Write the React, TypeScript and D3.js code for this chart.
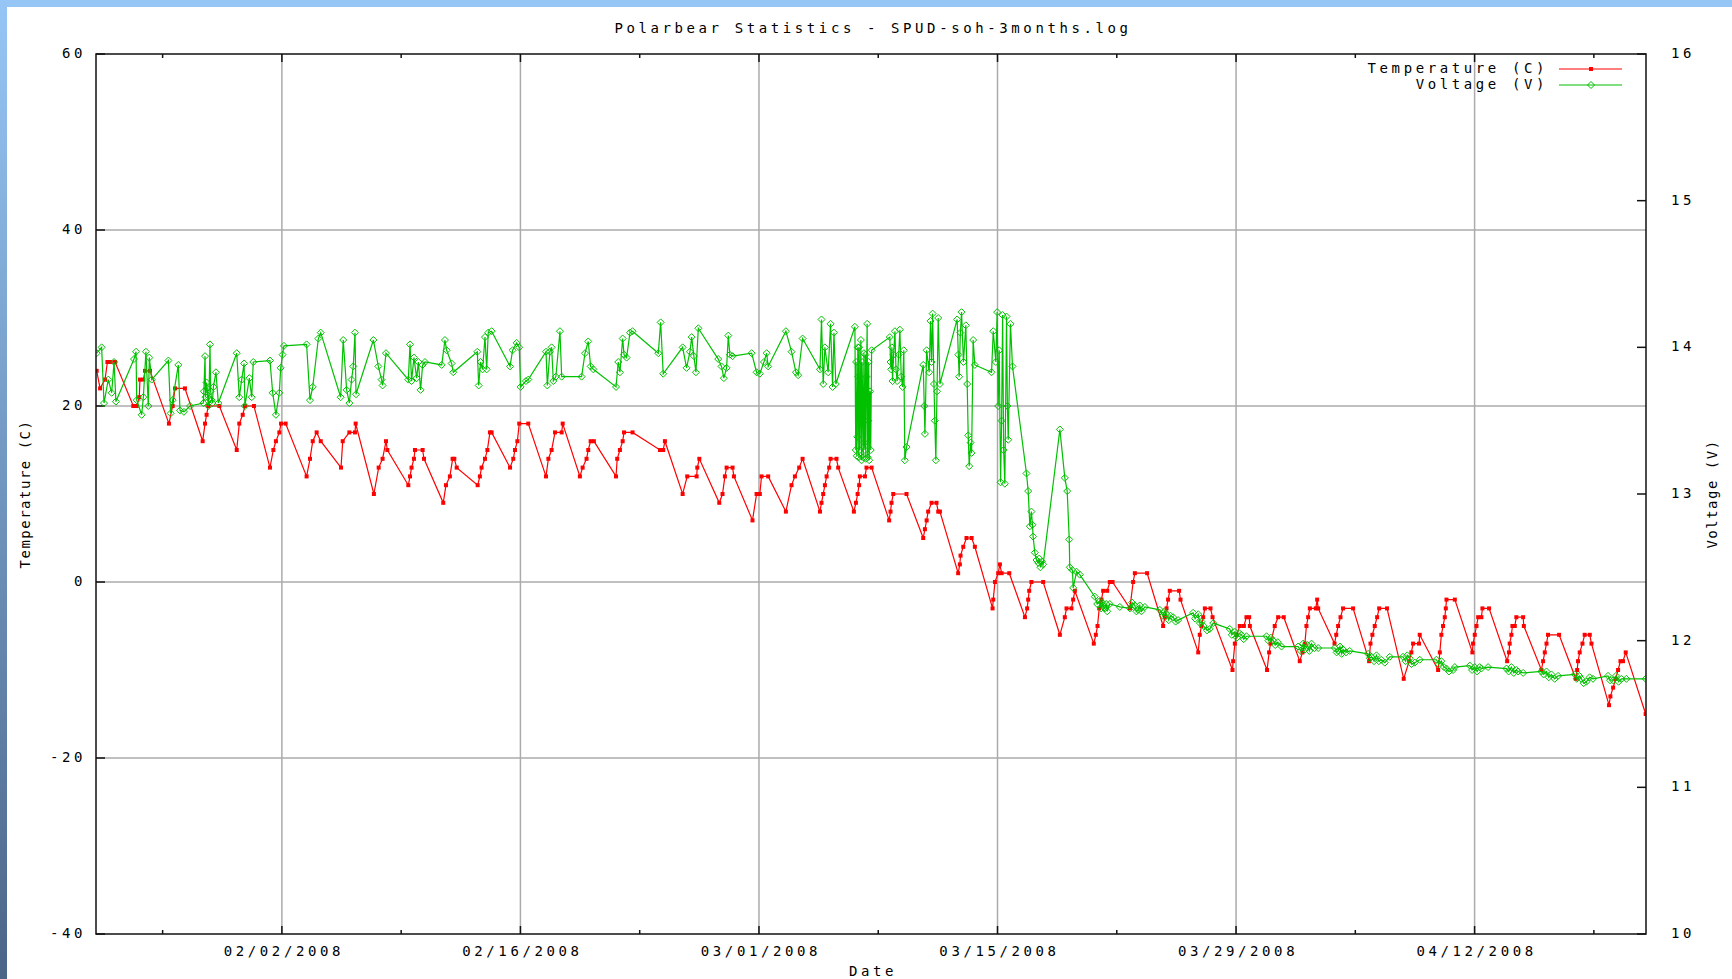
import React from "react";
import * as d3 from "d3";

const WIDTH = 1732;
const HEIGHT = 979;
const plot = { left: 96, right: 1646, top: 54, bottom: 934 };

const title = "Polarbear Statistics - SPUD-soh-3months.log";
// days are counted from 2008-01-22 00:00 UTC
const startMs = Date.UTC(2008, 0, 22);
const xDomainDays = [0.09, 91.06];
const majorTickDates = ["2008-02-02", "2008-02-16", "2008-03-01", "2008-03-15", "2008-03-29", "2008-04-12"];
const tempTicks = [-40, -20, 0, 20, 40, 60];
const voltTicks = [10, 11, 12, 13, 14, 15, 16];

// [day, degrees C]
const temperature: [number, number][] = [
  [0.13, 24], [0.33, 22], [0.62, 23], [0.76, 25], [0.95, 25], [1.21, 25], [2.28, 20], [2.48, 20], [2.63, 21], [2.67, 23],
  [2.87, 23], [2.97, 24], [3.26, 24], [4.37, 18], [4.59, 20], [4.73, 22], [5.31, 22], [6.35, 16], [6.49, 18], [6.58, 19],
  [6.68, 20], [7.33, 20], [8.35, 15], [8.5, 18], [8.7, 19], [8.83, 20], [9.36, 20], [10.3, 13], [10.5, 15], [10.65, 16],
  [10.85, 17], [10.95, 18], [11.22, 18], [12.45, 12], [12.65, 14], [12.81, 16], [13.04, 17], [13.28, 16], [14.47, 13], [14.57, 16],
  [14.96, 17], [15.29, 17], [15.33, 18], [16.4, 10], [16.68, 13], [16.91, 14], [17.11, 16], [17.19, 15], [18.42, 11],
  [18.52, 12], [18.61, 13], [18.75, 14], [18.81, 15], [19.26, 15], [19.34, 14], [20.47, 9], [20.63, 11], [20.86, 12], [21.02, 14],
  [21.12, 14], [21.26, 13], [22.49, 11], [22.62, 12], [22.72, 13], [22.92, 14], [23.06, 15], [23.21, 17], [23.31, 17], [24.39, 13],
  [24.58, 14], [24.68, 15], [24.82, 16], [24.93, 18], [25.46, 18], [26.5, 12], [26.64, 14], [26.83, 15], [27.03, 17], [27.42, 17],
  [27.48, 18], [28.49, 12], [28.65, 13], [28.88, 14], [28.98, 15], [29.12, 16], [29.31, 16], [30.61, 12], [30.68, 14], [30.84, 15],
  [31.0, 16], [31.08, 17], [31.58, 17], [33.19, 15], [33.38, 15], [33.48, 16], [34.52, 10], [34.79, 12], [35.34, 12], [35.38, 13],
  [35.5, 14], [36.67, 9],
  [36.86, 10], [37.0, 12], [37.1, 13], [37.45, 13], [37.53, 12], [38.62, 7], [38.86, 10], [39.05, 10], [39.15, 12], [39.54, 12],
  [40.58, 8], [40.91, 11], [41.11, 12], [41.36, 13], [41.56, 14], [42.58, 8], [42.67, 9], [42.77, 10], [42.87, 11], [42.97, 12],
  [43.12, 13], [43.2, 14], [43.55, 14], [43.65, 13], [44.57, 8], [44.69, 9], [44.79, 10], [44.88, 11], [44.92, 12], [45.22, 12],
  [45.31, 13], [45.61, 13], [46.64, 7], [46.72, 8], [46.78, 9], [46.88, 10], [47.66, 10], [48.64, 5], [48.74, 6], [48.84, 7],
  [48.93, 8], [49.13, 9], [49.42, 9], [49.52, 8], [49.62, 8], [50.69, 1], [50.79, 2], [50.83, 3], [50.99, 4], [51.18, 5],
  [51.48, 5], [51.67, 4], [52.71, -3], [52.75, -2], [52.85, 0], [53.04, 1], [53.14, 2], [53.24, 1], [53.69, 1], [54.61, -4],
  [54.74, -3], [54.8, -2], [54.86, -1], [54.99, 0], [55.68, 0], [56.66, -6], [56.95, -4], [57.05, -3], [57.34, -3], [57.44, -2],
  [57.54, -1], [58.65, -7], [58.77, -6], [58.87, -5], [58.97, -3], [59.1, -2], [59.2, -1], [59.44, -1], [59.59, 0], [59.75, 0],
  [60.77, -3], [60.96, 0], [61.06, 1], [61.78, 1], [62.72, -5], [62.82, -4], [62.92, -3], [63.01, -2], [63.11, -1], [63.66, -1],
  [63.74, -2], [64.78, -8], [64.87, -6], [64.97, -5], [65.07, -4], [65.17, -3], [65.5, -3], [65.62, -4], [66.79, -10], [66.83, -9],
  [66.93, -7], [67.03, -6], [67.22, -5], [67.46, -5], [67.61, -4], [67.77, -4], [67.81, -5], [68.82, -10], [68.94, -8], [69.02, -7],
  [69.27, -5], [69.47, -4], [69.8, -4], [70.74, -9], [70.9, -8], [71.04, -7], [71.13, -5], [71.23, -4], [71.33, -3], [71.68, -3],
  [71.76, -2], [71.82, -3], [72.78, -7],
  [72.88, -6], [72.99, -5], [73.13, -4], [73.28, -3], [73.87, -3], [74.81, -9], [74.89, -7], [75.0, -6], [75.14, -5], [75.28, -4],
  [75.4, -3], [75.86, -3], [76.84, -11], [77.16, -9], [77.29, -8], [77.39, -7], [77.74, -7], [77.78, -6], [78.86, -10], [78.96, -8],
  [79.05, -6], [79.15, -5], [79.25, -4], [79.31, -3], [79.35, -2], [79.84, -2], [80.87, -8], [80.91, -7], [81.01, -6], [81.11, -5],
  [81.21, -4], [81.4, -4], [81.46, -3], [81.85, -3], [82.91, -9], [83.02, -8], [83.06, -7], [83.16, -6], [83.22, -5], [83.36, -5],
  [83.45, -4], [83.85, -4], [83.89, -5], [84.92, -10], [85.02, -9], [85.12, -8], [85.22, -7], [85.31, -6], [85.96, -6], [86.94, -11],
  [87.02, -10], [87.07, -9], [87.17, -8], [87.33, -7], [87.46, -6], [87.76, -6], [87.86, -7], [88.89, -14], [88.97, -13], [89.13, -12],
  [89.28, -11], [89.42, -10], [89.56, -9], [89.71, -9], [89.87, -8], [91.04, -15],
];

// [day, volts]
const voltage: [number, number][] = [
  [0.13, 13.96], [0.42, 14.0], [0.56, 13.62], [0.81, 13.78], [1.01, 13.69], [1.15, 13.9], [1.26, 13.63], [2.32, 13.92], [2.44, 13.97], [2.48, 13.64],
  [2.77, 13.54], [2.87, 13.66], [3.02, 13.97], [3.16, 13.6], [3.22, 13.93], [3.36, 13.78], [4.34, 13.91], [4.47, 13.55], [4.59, 13.64], [4.92, 13.88],
  [5.02, 13.57], [5.25, 13.56], [5.61, 13.6], [6.39, 13.62], [6.42, 13.7], [6.49, 13.94], [6.52, 13.66], [6.58, 13.76], [6.62, 13.72], [6.68, 13.6],
  [6.72, 13.65], [6.78, 14.02], [6.82, 13.7], [6.88, 13.64], [6.92, 13.62], [6.98, 13.73], [7.13, 13.83], [7.27, 13.62], [8.35, 13.96], [8.5, 13.66],
  [8.64, 13.78], [8.78, 13.89], [8.83, 13.6], [9.09, 13.79], [9.23, 13.66], [9.32, 13.9], [10.3, 13.91], [10.46, 13.69], [10.65, 13.54], [10.85, 13.69],
  [10.93, 13.86], [11.04, 13.95], [11.12, 14.01], [12.45, 14.02], [12.65, 13.64], [12.81, 13.73], [13.14, 14.06], [13.28, 14.1], [14.45, 13.66], [14.6, 14.05],
  [14.8, 13.71], [14.96, 13.62], [15.09, 13.78], [15.19, 13.87], [15.29, 14.1], [15.35, 13.68], [16.37, 14.05], [16.66, 13.87], [16.85, 13.78], [16.91, 13.74],
  [17.11, 13.96], [18.42, 13.78],
  [18.52, 14.02], [18.61, 13.77], [18.75, 13.93], [18.91, 13.79], [19.01, 13.9], [19.14, 13.71], [19.26, 13.88], [19.4, 13.9], [20.38, 13.88], [20.57, 14.05],
  [20.67, 13.98], [20.96, 13.89], [21.06, 13.83], [22.47, 13.97], [22.55, 13.74], [22.66, 13.9], [22.78, 13.85], [22.92, 14.07], [23.02, 13.85], [23.11, 14.1],
  [23.31, 14.11], [24.39, 13.87], [24.54, 13.98], [24.78, 14.03], [24.93, 14.0], [25.01, 13.73], [25.32, 13.77], [25.46, 13.78], [26.5, 13.97], [26.58, 13.74],
  [26.73, 13.97], [26.83, 14.0], [26.93, 13.77], [27.08, 13.8], [27.32, 14.11], [27.42, 13.8], [28.59, 13.8], [28.79, 13.96], [28.98, 14.04], [29.12, 13.87],
  [29.28, 13.85], [30.61, 13.73], [30.74, 13.9], [30.84, 13.83], [31.0, 14.06], [31.08, 13.95], [31.23, 13.93], [31.43, 14.1], [31.58, 14.11], [33.09, 13.96],
  [33.23, 14.17], [33.38, 13.82], [34.52, 14.0], [34.75, 13.86], [34.95, 13.97], [35.05, 14.07], [35.18, 13.94], [35.3, 13.83], [35.44, 14.13], [36.61, 13.92],
  [36.8, 13.87], [36.94, 13.79], [37.1, 13.86], [37.2, 14.08], [37.29, 13.95], [37.45, 13.94], [38.57, 13.96], [38.86, 13.83], [39.05, 13.82], [39.29, 13.9],
  [39.45, 13.96], [39.54, 13.87], [40.58, 14.11], [40.91, 13.97], [41.17, 13.83], [41.3, 13.81], [41.56, 14.06], [42.58, 13.85], [42.67, 14.19], [42.77, 13.75],
  [42.87, 14.0], [43.06, 13.83], [43.2, 14.16], [43.32, 13.73], [43.4, 14.1], [43.51, 13.75], [44.63, 14.14], [44.68, 13.3], [44.7, 13.9], [44.74, 13.26],
  [44.77, 13.39], [44.8, 14.0], [44.83, 13.8], [44.86, 13.25], [44.88, 14.0], [44.92, 13.3], [44.95, 13.6], [44.98, 14.05], [45.02, 13.23], [45.05, 13.9],
  [45.08, 13.7], [45.12, 13.25], [45.16, 13.96], [45.19, 13.35], [45.22, 13.3], [45.25, 13.95], [45.27, 13.24], [45.31, 13.8], [45.35, 14.16], [45.38, 13.25],
  [45.41, 13.5], [45.44, 13.9], [45.47, 13.23], [45.52, 13.7], [45.56, 13.3], [45.61, 13.98],
  [46.68, 14.07], [46.72, 13.9], [46.76, 13.85], [46.8, 14.0], [46.84, 13.77], [46.9, 13.95], [46.98, 14.11], [47.04, 13.85], [47.11, 13.77], [47.2, 13.95],
  [47.27, 14.12], [47.35, 13.8], [47.43, 13.73], [47.5, 13.98], [47.56, 13.23], [47.66, 13.32], [48.64, 13.88], [48.7, 13.6], [48.74, 13.41], [48.84, 13.98],
  [48.99, 13.83], [49.07, 14.18], [49.13, 13.9], [49.19, 14.23], [49.27, 13.75], [49.32, 13.5], [49.38, 13.23], [49.45, 13.7], [49.52, 14.2], [49.62, 13.75],
  [50.63, 14.19], [50.7, 13.95], [50.75, 13.8], [50.82, 14.1], [50.89, 14.24], [51.0, 13.9], [51.14, 14.15], [51.22, 13.75], [51.28, 13.4], [51.34, 13.19],
  [51.42, 13.35], [51.48, 13.28], [51.57, 14.05], [51.67, 13.88], [52.65, 13.83], [52.75, 14.11], [52.9, 13.9], [52.98, 14.24], [53.04, 13.6], [53.1, 13.98],
  [53.18, 13.08], [53.24, 13.5], [53.3, 14.22], [53.36, 13.3], [53.43, 13.07], [53.53, 14.21], [53.58, 13.6], [53.63, 13.37], [53.76, 14.16], [53.88, 13.87],
  [54.7, 13.14], [54.8, 13.02], [54.9, 12.78], [54.99, 12.88], [55.05, 12.79], [55.09, 12.71], [55.19, 12.6], [55.29, 12.55], [55.39, 12.53], [55.45, 12.56],
  [55.52, 12.5], [55.6, 12.54], [55.68, 12.52], [56.66, 13.44], [56.95, 13.11], [57.09, 13.02], [57.21, 12.69], [57.24, 12.5], [57.4, 12.48], [57.44, 12.36],
  [57.64, 12.47], [57.83, 12.45], [58.71, 12.3], [58.85, 12.25], [59.0, 12.27], [59.08, 12.22], [59.15, 12.26], [59.2, 12.24], [59.3, 12.22], [59.38, 12.25],
  [59.44, 12.2], [59.59, 12.25], [60.18, 12.23], [60.77, 12.22], [60.9, 12.26], [61.06, 12.24], [61.15, 12.2], [61.25, 12.21], [61.35, 12.24], [61.45, 12.2],
  [61.65, 12.23], [62.53, 12.21], [62.7, 12.17], [62.8, 12.2], [62.92, 12.18], [63.05, 12.14], [63.15, 12.17], [63.31, 12.16], [63.45, 12.13], [63.6, 12.14],
  [64.48, 12.19], [64.6, 12.15], [64.78, 12.18], [64.88, 12.12], [64.97, 12.13], [65.1, 12.1], [65.3, 12.07], [65.46, 12.08], [65.66, 12.12], [66.63, 12.08],
  [66.75, 12.04], [66.93, 12.06], [67.05, 12.02], [67.2, 12.05], [67.32, 12.04], [67.45, 12.01], [67.61, 12.03], [68.79, 12.03], [68.9, 12.0], [69.05, 12.02],
  [69.18, 12.0], [69.3, 11.97], [69.45, 11.99], [69.67, 11.96], [70.64, 11.96], [70.8, 11.93], [70.94, 11.98], [71.05, 11.94], [71.2, 11.97], [71.3, 11.93],
  [71.43, 11.98], [71.6, 11.95], [71.82, 11.95], [72.8, 11.95], [72.9, 11.92], [72.99, 11.93], [73.1, 11.96], [73.2, 11.91], [73.28, 11.94], [73.45, 11.92],
  [73.67, 11.93], [74.75, 11.91], [74.85, 11.88], [74.95, 11.89], [75.1, 11.86], [75.24, 11.9], [75.38, 11.86], [75.53, 11.87], [75.73, 11.85], [76.02, 11.89],
  [76.8, 11.89], [76.95, 11.86], [77.05, 11.9], [77.19, 11.88], [77.3, 11.84], [77.49, 11.85], [77.78, 11.87], [78.76, 11.87], [78.9, 11.84], [79.05, 11.86],
  [79.2, 11.82], [79.35, 11.81], [79.5, 11.79], [79.74, 11.8], [79.84, 11.82], [80.72, 11.83], [80.85, 11.8], [81.01, 11.82], [81.15, 11.79], [81.3, 11.82],
  [81.4, 11.81], [81.79, 11.82], [82.87, 11.81], [83.0, 11.79], [83.16, 11.82], [83.3, 11.78], [83.45, 11.8], [83.55, 11.79], [83.85, 11.78], [84.92, 11.79],
  [85.05, 11.77], [85.22, 11.79], [85.35, 11.75], [85.51, 11.77], [85.7, 11.74], [85.9, 11.76], [86.88, 11.77], [87.0, 11.74], [87.15, 11.76], [87.27, 11.74],
  [87.4, 11.71], [87.56, 11.72], [87.75, 11.75], [87.95, 11.74], [88.83, 11.76], [88.95, 11.73], [89.13, 11.73], [89.3, 11.76], [89.45, 11.72], [89.62, 11.74],
  [89.91, 11.74], [91.04, 11.74],
];

const font = "'DejaVu Sans Mono', 'Liberation Mono', monospace";
const dayToDate = (d: number) => new Date(startMs + d * 864e5);

const App = () => {
  const x = d3.scaleUtc().domain(xDomainDays.map(dayToDate)).range([plot.left, plot.right]);
  const yT = d3.scaleLinear().domain([-40, 60]).range([plot.bottom, plot.top]);
  const yV = d3.scaleLinear().domain([10, 16]).range([plot.bottom, plot.top]);

  const majors = majorTickDates.map(s => new Date(s + "T00:00:00Z"));
  const minors = [...majors.map(d => d3.utcDay.offset(d, -7)), d3.utcDay.offset(majors[majors.length - 1], 7)];
  const fmt = d3.utcFormat("%m/%d/%Y");

  const tempLine = d3.line<[number, number]>().x(d => x(dayToDate(d[0]))).y(d => yT(d[1]));
  const voltLine = d3.line<[number, number]>().x(d => x(dayToDate(d[0]))).y(d => yV(d[1]));

  const diamond = (cx: number, cy: number, r = 3.5) =>
    `M${cx},${cy - r}L${cx + r},${cy}L${cx},${cy + r}L${cx - r},${cy}Z`;

  const textStyle = { fontFamily: font, fontSize: 14, letterSpacing: 3.6, fill: "#000" };
  const rotStyle = { fontFamily: font, fontSize: 14, letterSpacing: 1.5, fill: "#000" };

  return (
    <svg width={WIDTH} height={HEIGHT} style={{ position: "absolute", left: 0, top: 0, background: "#fff" }}>
      <defs>
        <linearGradient id="sideBar" x1="0" y1="0" x2="0" y2="1">
          <stop offset="0%" stopColor="#96c6f6" />
          <stop offset="100%" stopColor="#4b6587" />
        </linearGradient>
        <clipPath id="plotClip">
          <rect x={plot.left} y={plot.top} width={plot.right - plot.left} height={plot.bottom - plot.top} />
        </clipPath>
      </defs>
      <rect x={0} y={0} width={WIDTH} height={HEIGHT} fill="#fff" />
      <rect x={0} y={0} width={WIDTH} height={7} fill="#96c6f6" />
      <rect x={0} y={0} width={7} height={HEIGHT} fill="url(#sideBar)" />

      <text x={871 + 2} y={29} textAnchor="middle" dominantBaseline="middle" style={textStyle}>{title}</text>

      {/* grid */}
      <g stroke="#ababab" strokeWidth={1.5}>
        {tempTicks.filter(t => t > -40 && t < 60).map(t => (
          <line key={"h" + t} x1={plot.left} x2={plot.right} y1={yT(t)} y2={yT(t)} />
        ))}
        {majors.map((d, i) => (
          <line key={"v" + i} x1={x(d)} x2={x(d)} y1={plot.top} y2={plot.bottom} />
        ))}
      </g>

      {/* ticks */}
      <g stroke="#111" strokeWidth={1.5}>
        {tempTicks.map(t => (
          <line key={"lt" + t} x1={plot.left} x2={plot.left + 9} y1={yT(t)} y2={yT(t)} />
        ))}
        {voltTicks.map(v => (
          <line key={"rt" + v} x1={plot.right - 9} x2={plot.right} y1={yV(v)} y2={yV(v)} />
        ))}
        {majors.map((d, i) => (
          <g key={"mt" + i}>
            <line x1={x(d)} x2={x(d)} y1={plot.bottom} y2={plot.bottom - 8} />
            <line x1={x(d)} x2={x(d)} y1={plot.top} y2={plot.top + 8} />
          </g>
        ))}
        {minors.map((d, i) => (
          <g key={"mn" + i}>
            <line x1={x(d)} x2={x(d)} y1={plot.bottom} y2={plot.bottom - 4} />
            <line x1={x(d)} x2={x(d)} y1={plot.top} y2={plot.top + 4} />
          </g>
        ))}
      </g>

      {/* tick labels */}
      {tempTicks.map(t => (
        <text key={"tl" + t} x={86} y={yT(t)} textAnchor="end" dominantBaseline="middle" style={textStyle}>{t}</text>
      ))}
      {voltTicks.map(v => (
        <text key={"vl" + v} x={1671} y={yV(v)} dominantBaseline="middle" style={textStyle}>{v}</text>
      ))}
      {majors.map((d, i) => (
        <text key={"dl" + i} x={x(d) + 2} y={952} textAnchor="middle" dominantBaseline="middle" style={textStyle}>{fmt(d)}</text>
      ))}
      <text x={871 + 2} y={972} textAnchor="middle" dominantBaseline="middle" style={textStyle}>Date</text>
      <text transform={`translate(26,${(plot.top + plot.bottom) / 2}) rotate(-90)`} textAnchor="middle" dominantBaseline="middle" style={rotStyle}>Temperature (C)</text>
      <text transform={`translate(1713,${(plot.top + plot.bottom) / 2}) rotate(-90)`} textAnchor="middle" dominantBaseline="middle" style={rotStyle}>Voltage (V)</text>

      {/* data */}
      <g clipPath="url(#plotClip)">
        <path d={tempLine(temperature) || ""} fill="none" stroke="#ff0000" strokeWidth={1.2} />
        {temperature.map((d, i) => (
          <rect key={"tp" + i} x={x(dayToDate(d[0])) - 2} y={yT(d[1]) - 2} width={4} height={4} fill="#ff0000" />
        ))}
        <path d={voltLine(voltage) || ""} fill="none" stroke="#00c000" strokeWidth={1.2} />
        {voltage.map((d, i) => (
          <path key={"vp" + i} d={diamond(x(dayToDate(d[0])), yV(d[1]))} fill="none" stroke="#00c000" strokeWidth={1} />
        ))}
      </g>

      {/* frame */}
      <rect x={plot.left} y={plot.top} width={plot.right - plot.left} height={plot.bottom - plot.top} fill="none" stroke="#111" strokeWidth={1.5} />

      {/* legend */}
      <text x={1548} y={69} textAnchor="end" dominantBaseline="middle" style={textStyle}>Temperature (C)</text>
      <line x1={1559} x2={1622} y1={69} y2={69} stroke="#ff0000" strokeWidth={1.2} />
      <rect x={1589} y={67} width={4} height={4} fill="#ff0000" />
      <text x={1548} y={85} textAnchor="end" dominantBaseline="middle" style={textStyle}>Voltage (V)</text>
      <line x1={1559} x2={1622} y1={85} y2={85} stroke="#00c000" strokeWidth={1.2} />
      <path d={diamond(1591, 85)} fill="none" stroke="#00c000" strokeWidth={1} />
    </svg>
  );
};

export default App;
